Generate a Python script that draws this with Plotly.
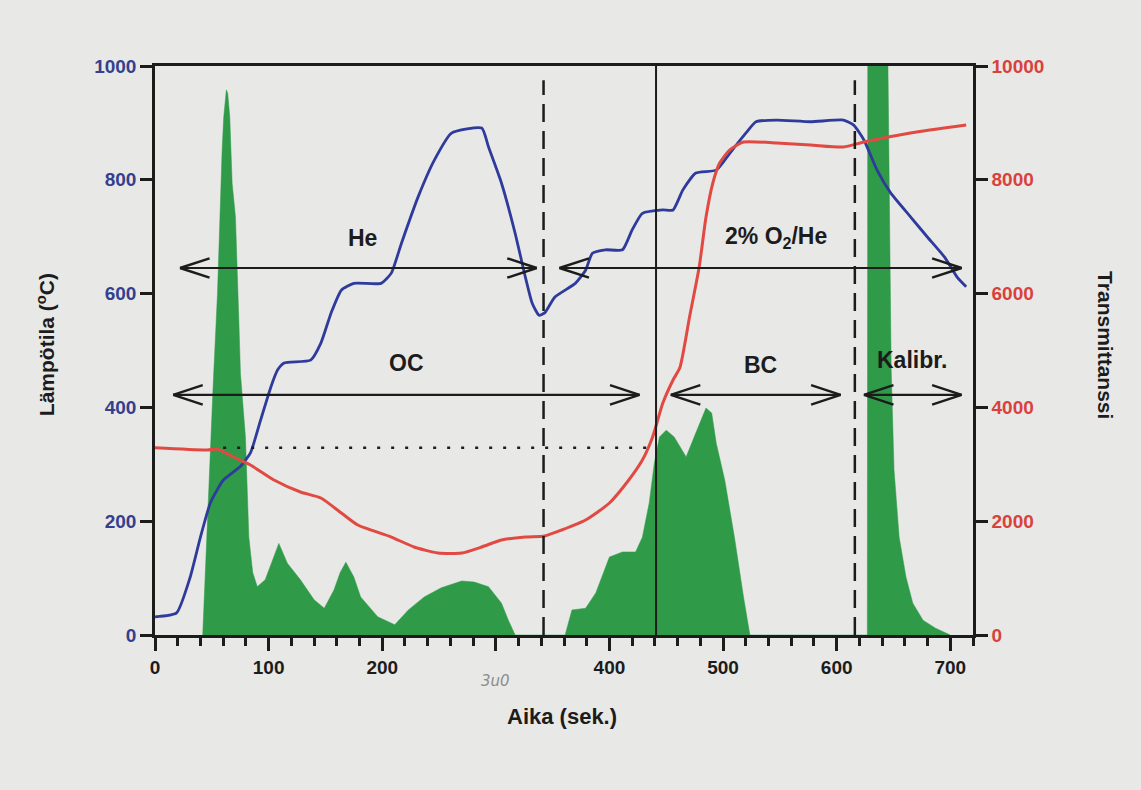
import plotly.graph_objects as go

# ---------------- data ----------------
# FID signal (green filled area), plotted on left-axis units
fid_time = [42, 44, 46, 48, 51, 55, 57, 59.1, 60.5, 62.8, 64, 65.8, 67.9, 70.8, 73.7, 75.2,
            79.6, 82.6, 86, 90, 97, 103, 109, 116.5, 128, 140, 149, 157.5, 163, 168, 175,
            181, 196, 211, 223, 237, 252, 270, 281, 293.5, 305, 311, 317,
            361, 367, 379, 388, 400, 411.5, 423, 429, 435, 439.5, 444, 450, 457, 467.5,
            476, 485, 490, 494, 501.5, 510, 518, 523.6,
            627, 627.5, 643, 648, 650.5, 655, 661, 667, 676, 687, 700]
fid_signal = [0, 100, 200, 300, 430, 600, 747, 853, 910, 958, 952, 911, 794, 735, 559, 460,
              348, 172, 110, 85, 97, 130, 161, 126, 97, 62, 47, 79, 110, 128, 102,
              67, 32, 18, 44, 67, 83, 95, 93, 85, 56, 26, 0,
              0, 44, 47, 74, 137, 146, 146, 172, 232, 302, 348, 360, 348, 313,
              355, 399, 390, 337, 272, 172, 67, 0,
              0, 1400, 1400, 466, 290, 172, 102, 56, 26, 12, 0]

# Temperature (blue, left axis)
temp_time = [0, 19, 31, 40, 48.7, 60, 75, 84, 93, 102, 108, 113.6, 137, 146, 155, 164, 175,
             199, 208, 217, 231.6, 246, 261, 287.6, 293.5, 305, 317, 326, 332, 338, 343,
             352, 370, 379, 385, 396.5, 411.5, 420, 429, 447, 456, 464.6, 476, 494, 506,
             520, 529, 547, 577, 606, 615, 624, 635.6, 647.5, 665, 680, 695, 706, 714]
temperature = [32, 39, 102, 172, 232, 272, 296, 320, 378, 436, 466, 478, 483, 513, 566, 606, 618,
               618, 636, 689, 770, 835, 882, 891, 858, 794, 706, 629, 583, 562, 566,
               594, 618, 641, 671, 677, 677, 712, 741, 747, 747, 782, 812, 817, 847,
               882, 902, 905, 902, 905, 896, 870, 817, 777, 735, 699, 664, 629, 612]

# Transmittance (red, right axis)
trans_time = [0, 46, 54.6, 69, 84, 104.7, 128, 146, 164, 178.5, 208, 228, 249, 270, 287.6,
              305, 326, 343, 358, 379, 400, 417, 429, 438, 447, 456, 462, 470.5, 479, 485,
              491, 497, 506, 518, 547, 577, 606, 624, 665, 714]
transmittance = [3290, 3251, 3269, 3128, 2988, 2724, 2513, 2408, 2144, 1933, 1722, 1547, 1441,
                 1441, 1547, 1670, 1722, 1740, 1845, 2021, 2320, 2724, 3075, 3480, 4077, 4482,
                 4700, 5589, 6467, 7346, 7944, 8295, 8524, 8664, 8647, 8612, 8576, 8664,
                 8822, 8963]

# phase boundaries / markers
dashed_lines_x = [342, 616]
solid_line_x = 441
dotted_level = 3290            # transmittance reference level
dotted_span = [60, 440]

# double arrows: (x_start, x_end, y_level on left axis)
arrows = {
    "He": (22, 336, 645),
    "O2He": (356, 710, 645),
    "OC": (16, 426.5, 422),
    "BC": (454, 603.5, 422),
    "Kalibr": (624, 710, 422),
}
labels = [
    ("He", 183, 698),
    ("2% O<sub>2</sub>/He", 547, 698),
    ("OC", 221, 478),
    ("BC", 533, 475),
    ("Kalibr.", 666, 483),
]

x_tickvals = [0, 100, 200, 300, 400, 500, 600, 700]
x_ticktext = ["0", "100", "200", " ", "400", "500", "600", "700"]
left_ticks = [0, 200, 400, 600, 800, 1000]
right_ticks = [0, 2000, 4000, 6000, 8000, 10000]

# ---------------- styling ----------------
FONT = "Liberation Sans, Arial, sans-serif"
GREEN = "#2f9a48"
BLUE = "#2e3b9c"
RED = "#e14a42"
BLUE_TXT = "#34408f"
RED_TXT = "#d8423c"
INK = "#1c1c1c"
BG = "#e8e8e6"
HEAD_L = 26     # arrow-head arm length (x units)
HEAD_H = 17     # arrow-head arm half-spread (left-axis units)

fig = go.Figure()

fig.add_trace(go.Scatter(x=fid_time, y=fid_signal, mode="lines", fill="tozeroy",
                         fillcolor=GREEN, line=dict(color=GREEN, width=0.5),
                         yaxis="y", showlegend=False, hoverinfo="skip"))
fig.add_trace(go.Scatter(x=temp_time, y=temperature, mode="lines",
                         line=dict(color=BLUE, width=2.8, shape="spline", smoothing=0.5),
                         yaxis="y", showlegend=False))
fig.add_trace(go.Scatter(x=trans_time, y=transmittance, mode="lines",
                         line=dict(color=RED, width=3, shape="spline", smoothing=0.6),
                         yaxis="y2", showlegend=False))

shapes = []
for xv in dashed_lines_x:
    shapes.append(dict(type="line", xref="x", yref="y", x0=xv, x1=xv, y0=0, y1=975,
                       line=dict(color=INK, width=2.5, dash="18px,9px")))
shapes.append(dict(type="line", xref="x", yref="y", x0=solid_line_x, x1=solid_line_x,
                   y0=0, y1=1000, line=dict(color=INK, width=2)))
shapes.append(dict(type="line", xref="x", yref="y2", x0=dotted_span[0], x1=dotted_span[1],
                   y0=dotted_level, y1=dotted_level,
                   line=dict(color=INK, width=2.5, dash="3px,11px")))

for key, (xa, xb, yl) in arrows.items():
    shapes.append(dict(type="line", xref="x", yref="y", x0=xa, x1=xb, y0=yl, y1=yl,
                       line=dict(color=INK, width=2.2)))
    for tip, sgn in ((xa, 1), (xb, -1)):
        for dy in (HEAD_H, -HEAD_H):
            shapes.append(dict(type="line", xref="x", yref="y", x0=tip, y0=yl,
                               x1=tip + sgn * HEAD_L, y1=yl + dy,
                               line=dict(color=INK, width=2.4)))

annotations = []
for txt, xv, yv in labels:
    annotations.append(dict(x=xv, y=yv, xref="x", yref="y", text=txt, showarrow=False,
                            xanchor="center", yanchor="middle",
                            font=dict(family=FONT, size=23, color=INK, weight="bold")))

# axis titles
annotations.append(dict(x=-0.134, y=0.51, xref="paper", yref="paper",
                        xanchor="center", yanchor="middle",
                        text="Lämpötila (<sup>o</sup>C)", textangle=-90, showarrow=False,
                        font=dict(family=FONT, size=21, color=INK, weight="bold")))
annotations.append(dict(x=1.161, y=0.51, xref="paper", yref="paper",
                        xanchor="center", yanchor="middle",
                        text="Transmittanssi", textangle=90, showarrow=False,
                        font=dict(family=FONT, size=21, color=INK, weight="bold")))
annotations.append(dict(x=0.498, y=-0.144, xref="paper", yref="paper",
                        xanchor="center", yanchor="middle",
                        text="Aika (sek.)", showarrow=False,
                        font=dict(family=FONT, size=22, color=INK, weight="bold")))
# pencil-written tick label
annotations.append(dict(x=300, y=-0.081, xref="x", yref="paper", text="3u0",
                        xanchor="center", yanchor="middle", showarrow=False,
                        font=dict(family="DejaVu Sans, sans-serif", size=15, color="#8c8c8c",
                                  style="italic")))

fig.update_layout(
    width=1141, height=790,
    margin=dict(l=155, r=168, t=66, b=155),
    paper_bgcolor=BG, plot_bgcolor=BG,
    shapes=shapes, annotations=annotations,
    xaxis=dict(range=[0, 720], tickvals=x_tickvals, ticktext=x_ticktext,
               ticks="outside", ticklen=13, tickwidth=2.5, tickcolor=INK,
               showline=True, linecolor=INK, linewidth=2.5, mirror=True,
               showgrid=False, zeroline=False,
               minor=dict(dtick=20, tick0=0, ticks="outside", ticklen=8,
                          tickwidth=2.5, tickcolor=INK, showgrid=False),
               tickfont=dict(family=FONT, size=19, color=INK, weight="bold")),
    yaxis=dict(range=[0, 1000], tickvals=left_ticks, ticks="outside", ticklen=12,
               tickwidth=2.5, tickcolor=INK, showline=True, linecolor=INK, linewidth=2.5,
               showgrid=False, zeroline=False,
               tickfont=dict(family=FONT, size=19, color=BLUE_TXT, weight="bold")),
    yaxis2=dict(range=[0, 10000], tickvals=right_ticks, tickformat="d",
                overlaying="y", side="right",
                ticks="outside", ticklen=12, tickwidth=2.5, tickcolor=INK,
                showline=True, linecolor=INK, linewidth=2.5,
                showgrid=False, zeroline=False,
                tickfont=dict(family=FONT, size=19, color=RED_TXT, weight="bold")),
)

fig.write_html("out.html", config={"displayModeBar": False},
               post_script="document.body.style.margin='0px';"
                           "document.body.style.overflow='hidden';")
